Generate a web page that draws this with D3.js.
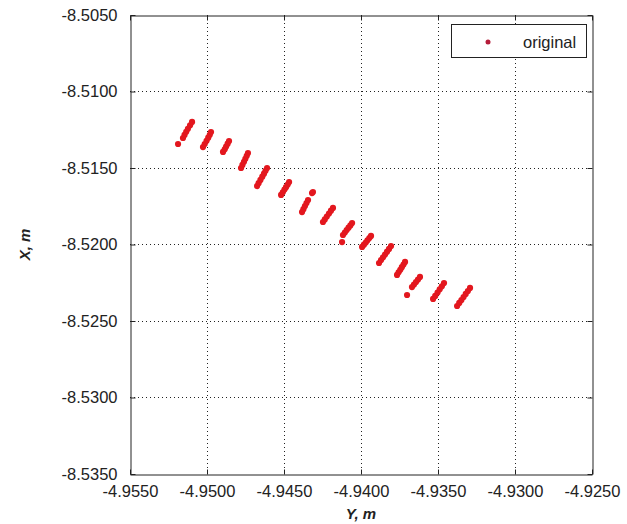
<!DOCTYPE html>
<html>
<head>
<meta charset="utf-8">
<script src="https://cdn.jsdelivr.net/npm/d3@7"></script>
<style>
  html, body { margin: 0; padding: 0; background: #ffffff; }
  svg { display: block; }
  text { font-family: "Liberation Sans", Arial, sans-serif; fill: #222; }
</style>
</head>
<body>
<svg id="chart" width="627" height="524"></svg>
<script>
// Horizontal axis values ("Y, m") and vertical axis values ("X, m") of the measured points
const pointsY = [
  -4.95188, -4.95156, -4.95146, -4.95135, -4.95124, -4.95110, -4.95097,
  -4.95026, -4.95015, -4.95003, -4.94992, -4.94982, -4.94974,
  -4.94896, -4.94885, -4.94876, -4.94866, -4.94857,
  -4.94779, -4.94770, -4.94760, -4.94751, -4.94742, -4.94734,
  -4.94675, -4.94665, -4.94653, -4.94641, -4.94630, -4.94620, -4.94610,
  -4.94519, -4.94508, -4.94497, -4.94487, -4.94476, -4.94467,
  -4.94383, -4.94374, -4.94364, -4.94354, -4.94344, -4.94318, -4.94312,
  -4.94247, -4.94235, -4.94222, -4.94208, -4.94195, -4.94182,
  -4.94123, -4.94117, -4.94105, -4.94093, -4.94081, -4.94069, -4.94058,
  -4.93993, -4.93981, -4.93969, -4.93958, -4.93946, -4.93935,
  -4.93883, -4.93870, -4.93857, -4.93844, -4.93831, -4.93818, -4.93805,
  -4.93766, -4.93756, -4.93745, -4.93735, -4.93724, -4.93714,
  -4.93701, -4.93669, -4.93656, -4.93643, -4.93630, -4.93617,
  -4.93532, -4.93518, -4.93503, -4.93489, -4.93475, -4.93461,
  -4.93376, -4.93362, -4.93348, -4.93334, -4.93320, -4.93306, -4.93292
];
const pointsX = [
  -8.51343, -8.51304, -8.51284, -8.51263, -8.51244, -8.51221, -8.51199,
  -8.51363, -8.51343, -8.51322, -8.51302, -8.51283, -8.51265,
  -8.51395, -8.51378, -8.51360, -8.51341, -8.51324,
  -8.51500, -8.51480, -8.51459, -8.51440, -8.51420, -8.51402,
  -8.51618, -8.51599, -8.51578, -8.51557, -8.51537, -8.51518, -8.51500,
  -8.51676, -8.51659, -8.51641, -8.51625, -8.51608, -8.51592,
  -8.51788, -8.51769, -8.51749, -8.51729, -8.51709, -8.51664, -8.51657,
  -8.51853, -8.51836, -8.51817, -8.51798, -8.51779, -8.51761,
  -8.51984, -8.51938, -8.51922, -8.51906, -8.51890, -8.51875, -8.51860,
  -8.52016, -8.52001, -8.51987, -8.51973, -8.51958, -8.51944,
  -8.52121, -8.52102, -8.52084, -8.52066, -8.52047, -8.52029, -8.52010,
  -8.52199, -8.52182, -8.52165, -8.52148, -8.52131, -8.52114,
  -8.52330, -8.52278, -8.52262, -8.52245, -8.52229, -8.52212,
  -8.52356, -8.52336, -8.52314, -8.52293, -8.52273, -8.52252,
  -8.52402, -8.52382, -8.52363, -8.52343, -8.52323, -8.52304, -8.52284
];
const xTicks = [-4.955, -4.950, -4.945, -4.940, -4.935, -4.930, -4.925];
const yTicks = [-8.535, -8.530, -8.525, -8.520, -8.515, -8.510, -8.505];
const xLabel = "Y, m";
const yLabel = "X, m";
const seriesName = "original";

const svg = d3.select("#chart");
const pLeft = 130, pRight = 592, pTop = 15, pBottom = 474;

const x = d3.scaleLinear().domain([-4.955, -4.925]).range([pLeft, pRight]);
const y = d3.scaleLinear().domain([-8.535, -8.505]).range([pBottom, pTop]);
const fmt = d => d.toFixed(4);

// grid
const grid = svg.append("g");
grid.selectAll("line.vx").data(xTicks.slice(1, -1)).join("line")
  .attr("x1", d => Math.round(x(d)) + 0.5).attr("x2", d => Math.round(x(d)) + 0.5)
  .attr("y1", pTop).attr("y2", pBottom)
  .attr("stroke", "#222").attr("stroke-width", 1).attr("stroke-dasharray", "1,3");
grid.selectAll("line.hy").data(yTicks.slice(1, -1)).join("line")
  .attr("y1", d => Math.round(y(d)) + 0.5).attr("y2", d => Math.round(y(d)) + 0.5)
  .attr("x1", pLeft).attr("x2", pRight)
  .attr("stroke", "#222").attr("stroke-width", 1).attr("stroke-dasharray", "1,3");

// axes with inward ticks
const axB = svg.append("g").attr("transform", `translate(0,${pBottom + 0.5})`)
  .call(d3.axisBottom(x).tickValues(xTicks).tickFormat(fmt).tickSizeInner(-5).tickSizeOuter(0).tickPadding(11));
const axT = svg.append("g").attr("transform", `translate(0,${pTop + 0.5})`)
  .call(d3.axisTop(x).tickValues(xTicks).tickFormat("").tickSizeInner(-5).tickSizeOuter(0));
const axL = svg.append("g").attr("transform", `translate(${pLeft + 0.5},0)`)
  .call(d3.axisLeft(y).tickValues(yTicks).tickFormat(fmt).tickSizeInner(-5).tickSizeOuter(0).tickPadding(13));
const axR = svg.append("g").attr("transform", `translate(${pRight + 0.5},0)`)
  .call(d3.axisRight(y).tickValues(yTicks).tickFormat("").tickSizeInner(-5).tickSizeOuter(0));
[axB, axT, axL, axR].forEach(a => {
  a.selectAll("path.domain").attr("stroke", "#222");
  a.selectAll(".tick line").attr("stroke", "#222");
  a.selectAll(".tick text").attr("fill", "#222")
    .style("font-family", "'Liberation Sans', Arial, sans-serif").style("font-size", "16.5px");
});
axB.selectAll(".tick text").attr("dy", "0.71em");

// points
svg.append("g").selectAll("circle").data(pointsY.map((v, i) => [v, pointsX[i]])).join("circle")
  .attr("cx", d => x(d[0])).attr("cy", d => y(d[1])).attr("r", 3.1)
  .attr("fill", "#e3171e");

// axis labels
svg.append("text").attr("x", (pLeft + pRight) / 2).attr("y", 519)
  .attr("text-anchor", "middle").style("font-size", "15px")
  .style("font-weight", "bold").style("font-style", "italic").text(xLabel);
svg.append("text").attr("transform", `translate(30,${(pTop + pBottom) / 2}) rotate(-90)`)
  .attr("text-anchor", "middle").style("font-size", "15px")
  .style("font-weight", "bold").style("font-style", "italic").text(yLabel);

// legend
const lg = svg.append("g");
lg.append("rect").attr("x", 451.5).attr("y", 24.5).attr("width", 135).attr("height", 33)
  .attr("fill", "#fff").attr("stroke", "#222").attr("stroke-width", 1);
lg.append("circle").attr("cx", 488).attr("cy", 42).attr("r", 2.5).attr("fill", "#b51c3a");
lg.append("text").attr("x", 523).attr("y", 47.5).style("font-size", "16.5px").text(seriesName);
</script>
</body>
</html>
